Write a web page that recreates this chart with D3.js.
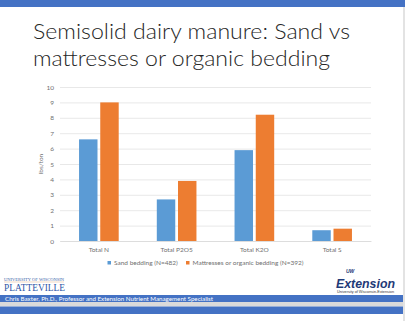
<!DOCTYPE html>
<html><head><meta charset="utf-8">
<script src="https://cdn.jsdelivr.net/npm/d3@7"></script>
<style>html,body{margin:0;padding:0;background:#fff;}svg{display:block;}</style>
</head><body>
<script>
const categories = ["Total N", "Total P2O5", "Total K2O", "Total S"];
const seriesNames = ["Sand bedding (N=482)", "Mattresses or organic bedding (N=392)"];
const sandValues = [6.6, 2.7, 5.9, 0.7];
const mattressValues = [9.0, 3.9, 8.2, 0.8];
const yTicks = [0,1,2,3,4,5,6,7,8,9,10];
const titleLines = ["Semisolid dairy manure: Sand vs", "mattresses or organic bedding"];
const yTitle = "lbs/ton";
const footerText = "Chris Baxter, Ph.D., Professor and Extension Nutrient Management Specialist";

const W = 405, H = 321;
const colors = ["#5B9BD5", "#ED7D31"];
const svg = d3.select("body").append("svg").attr("width", W).attr("height", H);

// slide background
svg.append("rect").attr("width", W).attr("height", H).attr("fill", "#fff");
svg.append("rect").attr("x", 0).attr("y", 0).attr("width", W).attr("height", 7).attr("fill", "#4472C4");
svg.append("rect").attr("x", 403).attr("y", 7).attr("width", 2).attr("height", H-7).attr("fill", "#E3E3E3");

// title
const tl = [{t: titleLines[0], y: 39, w: 317}, {t: titleLines[1], y: 66, w: 297}];
tl.forEach(d => {
  svg.append("text").attr("x", 33).attr("y", d.y).text(d.t)
    .attr("font-family", "Lato, 'Open Sans', sans-serif").attr("font-weight", 300)
    .attr("font-size", 22).attr("fill", "#262626")
    .attr("textLength", d.w).attr("lengthAdjust", "spacingAndGlyphs");
});

// chart
const x0 = d3.scaleBand().domain(categories).range([60, 371]).paddingInner(0.49).paddingOuter(0.245);
const x1 = d3.scaleBand().domain([0,1]).range([0, x0.bandwidth()]).paddingInner(0.13);
const y = d3.scaleLinear().domain([0, 10]).range([241, 87]);

const fontChart = "Lato, 'Open Sans', sans-serif";
const g = svg.append("g");
const yAxis = d3.axisLeft(y).tickValues(yTicks).tickSize(-(371-60)).tickPadding(6);
const ya = g.append("g").attr("transform", "translate(60,0)").call(yAxis);
ya.select(".domain").remove();
ya.selectAll(".tick line").attr("stroke", "#E2E2E2").attr("stroke-width", 0.8);
ya.selectAll(".tick text").attr("font-family", fontChart).attr("font-size", 6.5).attr("fill", "#707070");

const xAxis = d3.axisBottom(x0).tickSize(0).tickPadding(6);
const xa = g.append("g").attr("transform", "translate(0,241)").call(xAxis);
xa.select(".domain").attr("stroke", "#D9D9D9").attr("stroke-width", 0.8);
xa.selectAll(".tick text").attr("font-family", fontChart).attr("font-size", 6.5).attr("fill", "#707070");

const series = [sandValues, mattressValues];
series.forEach((vals, si) => {
  g.append("g").selectAll("rect").data(categories).enter().append("rect")
    .attr("x", (c) => x0(c) + x1(si))
    .attr("width", x1.bandwidth())
    .attr("y", (c, i) => y(vals[i]))
    .attr("height", (c, i) => y(0) - y(vals[i]))
    .attr("fill", colors[si]);
});

// y title
g.append("text").attr("transform", "translate(43,164) rotate(-90)").attr("text-anchor", "middle")
  .attr("font-family", fontChart).attr("font-size", 6.5).attr("fill", "#707070").text(yTitle);

// legend
const legX = [107.5, 186];
seriesNames.forEach((n, i) => {
  svg.append("rect").attr("x", legX[i]).attr("y", 261).attr("width", 3.5).attr("height", 3.5).attr("fill", colors[i]);
  svg.append("text").attr("x", legX[i] + 6.5).attr("y", 264.5).text(n)
    .attr("font-family", fontChart).attr("font-size", 6.5).attr("fill", "#707070");
});

// footer bars
svg.append("rect").attr("x", 0).attr("y", 295).attr("width", 403).attr("height", 7).attr("fill", "#4472C4");
svg.append("rect").attr("x", 0).attr("y", 302).attr("width", 403).attr("height", 4.5).attr("fill", "#DADADA");
svg.append("rect").attr("x", 0).attr("y", 306.5).attr("width", 403).attr("height", 7.5).attr("fill", "#4472C4");
svg.append("text").attr("x", 5).attr("y", 300.8).text(footerText)
  .attr("font-family", fontChart).attr("font-size", 6).attr("fill", "#fff")
  .attr("textLength", 208).attr("lengthAdjust", "spacingAndGlyphs");

// Platteville logo
svg.append("text").attr("x", 4).attr("y", 281).text("UNIVERSITY OF WISCONSIN")
  .attr("font-family", "'Liberation Serif', serif").attr("font-size", 4.5).attr("fill", "#3B5FA8")
  .attr("textLength", 60).attr("lengthAdjust", "spacingAndGlyphs");
svg.append("line").attr("x1", 4).attr("x2", 64).attr("y1", 282).attr("y2", 282).attr("stroke", "#D9A066").attr("stroke-width", 0.4);
svg.append("text").attr("x", 4).attr("y", 291).text("PLATTEVILLE")
  .attr("font-family", "'Liberation Serif', serif").attr("font-size", 11).attr("fill", "#2E56A6")
  .attr("textLength", 61).attr("lengthAdjust", "spacingAndGlyphs");

// Extension logo
svg.append("text").attr("x", 346).attr("y", 272.5).text("UW")
  .attr("font-family", "'Liberation Sans', sans-serif").attr("font-weight", "bold").attr("font-style", "italic")
  .attr("font-size", 5).attr("fill", "#1F3A78");
svg.append("text").attr("x", 336).attr("y", 287.5).text("Extension")
  .attr("font-family", "'Liberation Sans', sans-serif").attr("font-weight", "bold").attr("font-style", "italic")
  .attr("font-size", 13).attr("fill", "#1F3A78")
  .attr("textLength", 59).attr("lengthAdjust", "spacingAndGlyphs");
svg.append("text").attr("x", 337).attr("y", 293).text("University of Wisconsin-Extension")
  .attr("font-family", "'Liberation Sans', sans-serif").attr("font-size", 3)
  .attr("fill", "#333").attr("textLength", 57).attr("lengthAdjust", "spacingAndGlyphs");
</script>
</body></html>
